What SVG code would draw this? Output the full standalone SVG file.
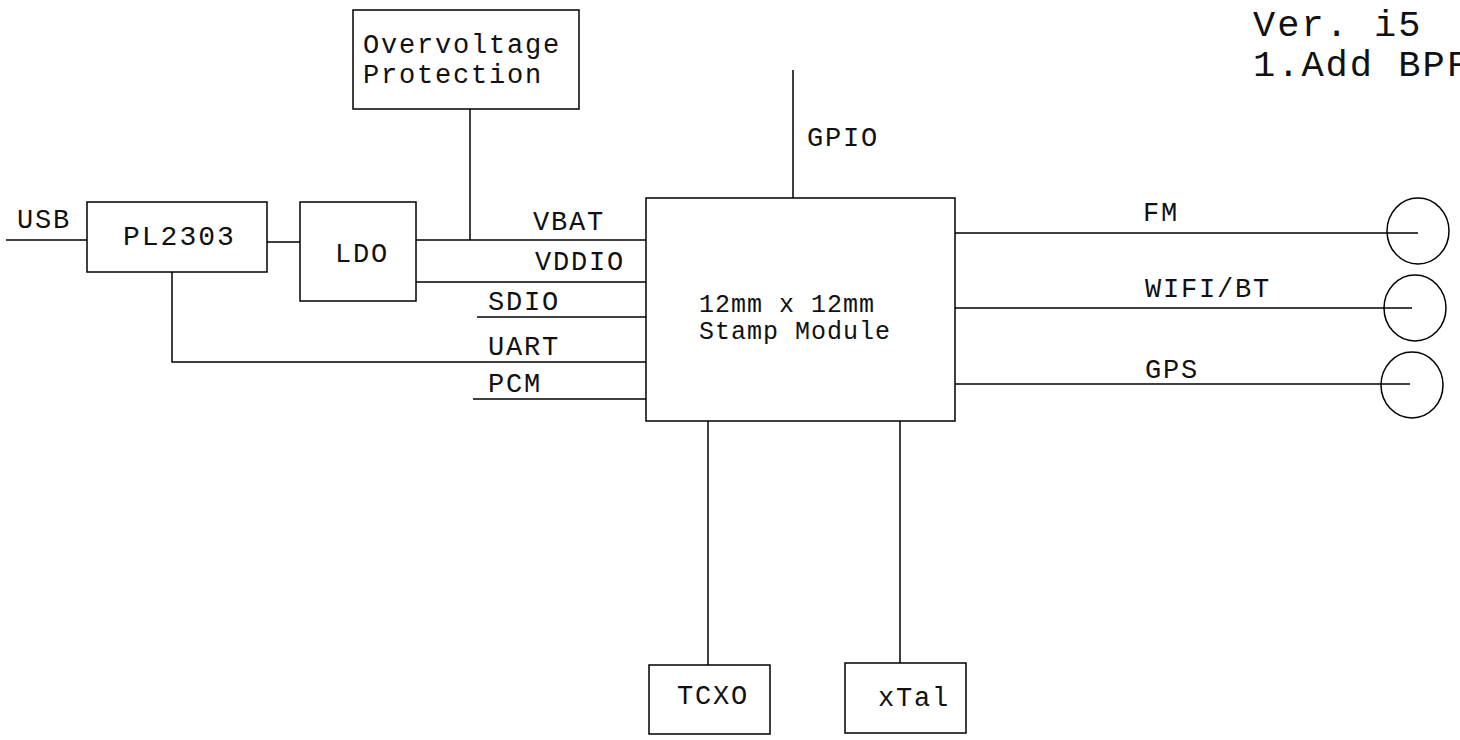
<svg xmlns="http://www.w3.org/2000/svg" width="1460" height="740" viewBox="0 0 1460 740">
<style>
.box{fill:#fff;stroke:#000;stroke-width:1.5}
.w{stroke:#000;stroke-width:1.5;fill:none}
text{font-family:"Liberation Mono","DejaVu Sans Mono",monospace;font-size:27px;letter-spacing:1.8px;fill:#111}
.m{font-size:25px;letter-spacing:1px}
.v{font-size:37px;letter-spacing:2px}
</style>
<rect width="1460" height="740" fill="#fff"/>
<g id="connectors">
<line class="w" x1="6" y1="240" x2="87" y2="240"/>
<line class="w" x1="267" y1="242" x2="300" y2="242"/>
<polyline class="w" points="172,272 172,362 646,362"/>
<line class="w" x1="416" y1="240" x2="646" y2="240"/>
<line class="w" x1="470" y1="109" x2="470" y2="240"/>
<line class="w" x1="416" y1="282" x2="648" y2="282"/>
<line class="w" x1="477" y1="317" x2="646" y2="317"/>
<line class="w" x1="473" y1="399" x2="646" y2="399"/>
<line class="w" x1="793" y1="70" x2="793" y2="200"/>
<line class="w" x1="955" y1="233" x2="1418" y2="233"/>
<line class="w" x1="955" y1="308" x2="1412" y2="308"/>
<line class="w" x1="955" y1="384" x2="1410" y2="384"/>
<line class="w" x1="708" y1="421" x2="708" y2="666"/>
<line class="w" x1="900" y1="421" x2="900" y2="663"/>
<text x="17" y="228">USB</text>
<text x="533" y="230">VBAT</text>
<text x="535" y="270">VDDIO</text>
<text x="488" y="310">SDIO</text>
<text x="488" y="355">UART</text>
<text x="488" y="392">PCM</text>
<text x="807" y="146">GPIO</text>
<text x="1143" y="221">FM</text>
<text x="1145" y="297">WIFI/BT</text>
<text x="1145" y="378">GPS</text>
</g>
<g id="pl2303">
<rect class="box" x="87" y="202" width="180" height="70"/>
<text x="123" y="245" style="font-size:28px;letter-spacing:2px">PL2303</text>
</g>
<g id="ldo">
<rect class="box" x="300" y="202" width="116" height="99"/>
<text x="335" y="262">LDO</text>
</g>
<g id="ovp">
<rect class="box" x="353" y="10" width="226" height="99"/>
<text x="363" y="53">Overvoltage</text>
<text x="363" y="83">Protection</text>
</g>
<g id="module">
<rect class="box" x="646" y="198" width="309" height="223"/>
<text class="m" x="699" y="312">12mm x 12mm</text>
<text class="m" x="699" y="339">Stamp Module</text>
</g>
<g id="ant-fm">
<ellipse class="w" cx="1418" cy="231" rx="31" ry="33"/>
</g>
<g id="ant-wifi">
<ellipse class="w" cx="1415" cy="308" rx="31" ry="33"/>
</g>
<g id="ant-gps">
<ellipse class="w" cx="1412" cy="385" rx="31" ry="33"/>
</g>
<g id="tcxo">
<rect class="box" x="649" y="665" width="121" height="69"/>
<text x="677" y="704">TCXO</text>
</g>
<g id="xtal">
<rect class="box" x="845" y="663" width="121" height="70"/>
<text x="878" y="706">xTal</text>
</g>
<g id="version">
<text class="v" x="1253" y="36">Ver. i5</text>
<text class="v" x="1253" y="76">1.Add BPF</text>
</g>
</svg>
